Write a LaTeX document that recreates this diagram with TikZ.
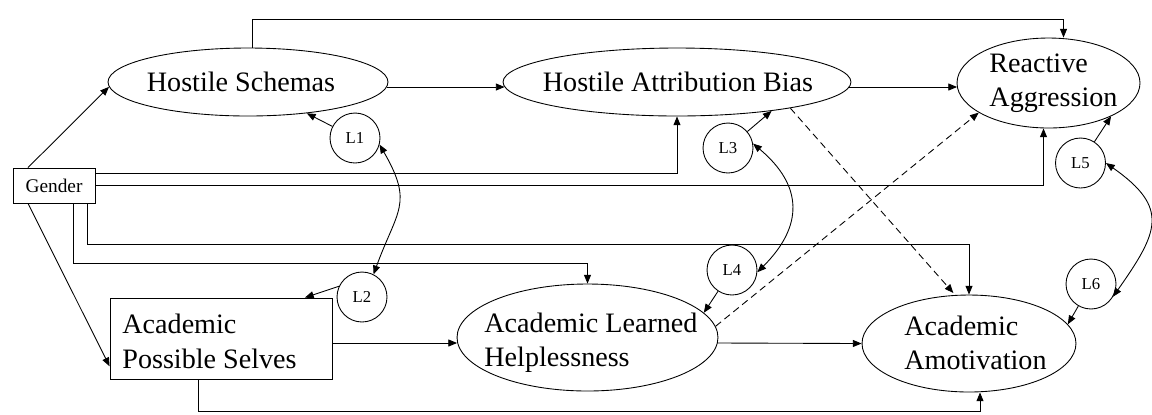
\documentclass[tikz,border=0pt]{standalone}
\usepackage{fontspec}
\setmainfont{Liberation Serif}
\usetikzlibrary{arrows.meta,shapes.geometric,calc}
\begin{document}
\begin{tikzpicture}[x=0.02cm,y=0.02cm,
  line width=0.5pt,
  >={Triangle[length=5pt,width=4pt]},
  latent/.style={draw,ellipse,inner sep=0pt},
  observed/.style={draw,rectangle,inner sep=0pt},
  resid/.style={draw,circle,minimum size=1cm,inner sep=0pt,font=\fontsize{9.5}{11}\selectfont},
  bigtext/.style={inner sep=0pt,align=left,font=\fontsize{16}{19.5}\selectfont},
  effect/.style={->},
  indirect/.style={->,dash pattern=on 4pt off 2.5pt},
  cov/.style={<->}]

% canvas
\fill[white] (0,0) rectangle (1152,-414);
\useasboundingbox (0,0) rectangle (1152,-414);

% latent and observed variables
\node[latent,minimum width=5.6cm,minimum height=1.36cm] (HS) at (248,-82) {};
\node[bigtext] (HSt) at (241,-82) {Hostile Schemas};
\node[latent,minimum width=6.96cm,minimum height=1.36cm] (HAB) at (677,-82) {};
\node[bigtext] (HABt) at (678,-82) {Hostile Attribution Bias};
\node[latent,minimum width=3.66cm,minimum height=1.8cm] (RA) at (1048.5,-83) {};
\node[bigtext,anchor=west] (RAt) at (989,-83.5) {Reactive\\Aggression};

\node[observed,minimum width=1.64cm,minimum height=0.7cm,font=\fontsize{11}{13}\selectfont] (G) at (54,-185.5) {Gender};

\node[observed,minimum width=4.44cm,minimum height=1.62cm] (APS) at (221,-338.5) {};
\node[bigtext,anchor=west] (APSt) at (122,-341.5) {Academic\\Possible Selves};
\node[latent,minimum width=5.22cm,minimum height=2.14cm] (ALH) at (587.5,-337.5) {};
\node[bigtext,anchor=west] (ALHt) at (484,-343) {Academic Learned\\Helplessness};
\node[latent,minimum width=4.28cm,minimum height=1.94cm] (AA) at (969,-343.5) {};
\node[bigtext,anchor=west] (AAt) at (904,-343) {Academic\\Amotivation};

% residual factors
\node[resid] (L1) at (355,-138) {L1};
\node[resid] (L2) at (362,-297) {L2};
\node[resid] (L3) at (728,-148) {L3};
\node[resid] (L4) at (732,-270) {L4};
\node[resid] (L5) at (1080.5,-163) {L5};
\node[resid] (L6) at (1091,-284) {L6};

% paths from gender
\draw[effect] ($(G.north)+(-26,0)$) -- (HS.182);
\draw[effect] ($(G.south)+(-26,0)$) -- (APS.194);
\draw[effect] ($(G.east)+(0,12.5)$) -| (HAB.south);
\draw[effect] (G.east) -| ($(RA.south)+(-5,0)$);
\draw[effect] ($(G.south)+(19,0)$) -- ++(0,-60) -| (ALH.north);
\draw[effect] ($(G.south)+(33,0)$) -- ++(0,-41) -| (AA.north);

% structural paths
\draw[effect] ($(HS.north)+(4,0)$) -- ++(0,28) -| ($(RA.north)+(15,0)$);
\draw[effect] ($(HS.east)+(-1.5,-5)$) -- ($(HAB.west)+(2,-5)$);
\draw[effect] ($(HAB.east)+(-2,-5)$) -- ($(RA.west)+(0.5,-4)$);
\draw[effect] ($(APS.east)+(0,-4.5)$) -- ($(ALH.west)+(0.5,-5.5)$);
\draw[effect] ($(ALH.east)+(-0.5,-5.5)$) -- (AA.west);
\draw[effect] ($(APS.south)+(-23,0)$) -- ++(0,-32) -| ($(AA.south)+(11,0)$);

% cross-lagged paths
\draw[indirect,shorten >=1.5pt] (HAB.-13) -- (AA.106);
\draw[indirect] (ALH.5) -- (RA.203);

% residuals to their factors
\draw[effect] (L1) -- (HS.-28);
\draw[effect] (L2.155) -- (APS.26);
\draw[effect] (L3) -- (HAB.-17);
\draw[effect] (L4) -- (ALH.12);
\draw[effect] (L5) -- (RA.-28);
\draw[effect] (L6) -- (AA.11);

% residual covariances
\draw[cov] (L1.-15) to[out=-60,in=70,looseness=1.35] (L2.63);
\draw[cov] (L3.10) to[out=-40,in=45,looseness=1.3] (L4.-5);
\draw[cov] (L5.0) to[out=-35,in=55,looseness=1.5] (L6.-30);
\end{tikzpicture}
\end{document}
